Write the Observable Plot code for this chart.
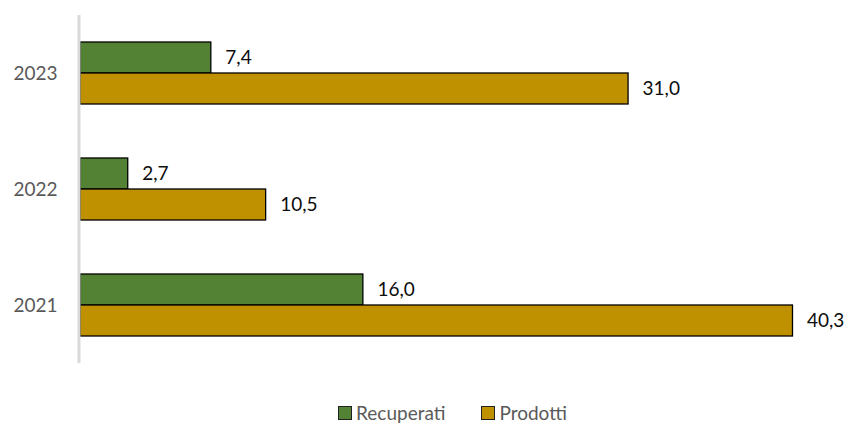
<!DOCTYPE html>
<html>
<head>
<meta charset="utf-8">
<script src="https://cdn.jsdelivr.net/npm/d3@7"></script>
<script src="https://cdn.jsdelivr.net/npm/@observablehq/plot@0.6"></script>
<style>
  html, body { margin: 0; padding: 0; background: #fff; }
  #wrap { position: relative; width: 851px; height: 424px; font-family: Lato, "Open Sans", sans-serif; }
  #legend { position: absolute; top: 401px; left: 0; width: 851px; display: flex; justify-content: flex-start; gap: 36px; padding-left: 338px; box-sizing: border-box; font-size: 19px; color: #595959; }
  .item { display: flex; align-items: center; gap: 4px; }
  .sw { width: 14px; height: 14px; border: 1px solid #222; box-sizing: border-box; }
</style>
</head>
<body>
<div id="wrap"><div id="chart"></div><div id="legend"></div></div>
<script>
const years = ["2023", "2022", "2021"];
const recuperati = [7.4, 2.7, 16.0];
const prodotti = [31.0, 10.5, 40.3];
const series = ["Recuperati", "Prodotti"];
const colors = ["#548235", "#BF9000"];

const data = years.flatMap((y, i) => [
  {year: y, series: series[0], value: recuperati[i]},
  {year: y, series: series[1], value: prodotti[i]}
]);

const fmt = v => v.toFixed(1).replace(".", ",");

const chart = Plot.plot({
  width: 851,
  height: 385,
  marginLeft: 80,
  marginRight: 9,
  marginTop: 14,
  marginBottom: 21,
  style: {fontFamily: 'Lato, "Open Sans", sans-serif', background: "transparent"},
  x: {domain: [0, 43.1], axis: null},
  y: {domain: series, axis: null, paddingInner: 0, paddingOuter: 0.852},
  fy: {domain: years, padding: 0, label: null, axis: null},
  color: {domain: series, range: colors},
  marks: [
    Plot.barX(data, {x: "value", y: "series", fy: "year", fill: "series", stroke: "#000", strokeWidth: 1.3}),
    Plot.ruleX([0], {stroke: "#d9d9d9", strokeWidth: 3, dx: -1.5}),
    Plot.text(data, {x: "value", y: "series", fy: "year", text: d => fmt(d.value), textAnchor: "start", dx: 14, fontSize: 19, fill: "#0d0d0d"}),
    Plot.axisFy({anchor: "left", tickSize: 0, tickPadding: 23, fontSize: 19, color: "#595959", label: null})
  ]
});
document.getElementById("chart").appendChild(chart);

const legend = document.getElementById("legend");
series.forEach((s, i) => {
  const it = document.createElement("div");
  it.className = "item";
  const sw = document.createElement("div");
  sw.className = "sw";
  sw.style.background = colors[i];
  const t = document.createElement("span");
  t.textContent = s;
  it.appendChild(sw);
  it.appendChild(t);
  legend.appendChild(it);
});
</script>
</body>
</html>
